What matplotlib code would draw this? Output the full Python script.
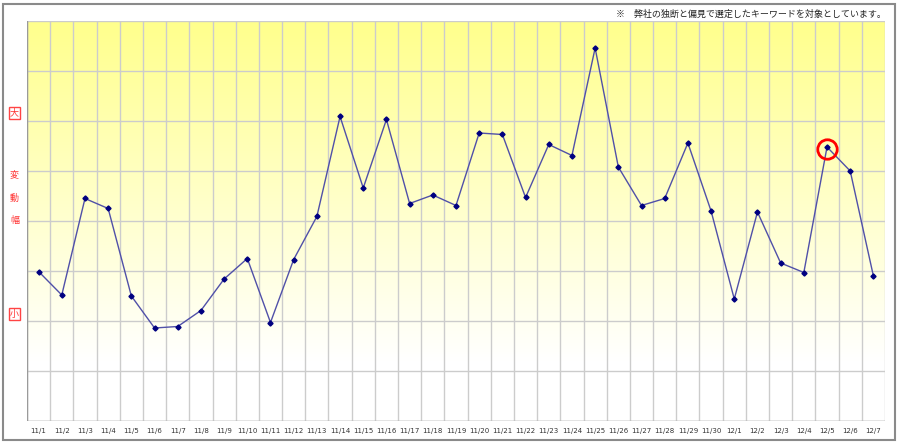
import matplotlib
matplotlib.use("Agg")
import matplotlib.pyplot as plt
import numpy as np
from matplotlib.patches import Rectangle

plt.rcParams['font.family'] = ['Noto Sans CJK JP', 'DejaVu Sans']

dates = ["11/1", "11/2", "11/3", "11/4", "11/5", "11/6", "11/7", "11/8", "11/9", "11/10",
         "11/11", "11/12", "11/13", "11/14", "11/15", "11/16", "11/17", "11/18", "11/19", "11/20",
         "11/21", "11/22", "11/23", "11/24", "11/25", "11/26", "11/27", "11/28", "11/29", "11/30",
         "12/1", "12/2", "12/3", "12/4", "12/5", "12/6", "12/7"]
values = [2.99, 2.52, 4.45, 4.25, 2.50, 1.86, 1.89, 2.21, 2.84, 3.25,
          1.97, 3.23, 4.09, 6.09, 4.66, 6.03, 4.35, 4.52, 4.31, 5.76,
          5.73, 4.47, 5.53, 5.31, 7.46, 5.08, 4.31, 4.45, 5.56, 4.20,
          2.44, 4.18, 3.16, 2.97, 5.48, 5.00, 2.90]
highlight_date = "12/5"
note = "※　弊社の独断と偏見で選定したキーワードを対象としています。"

W, H = 900, 444
fig = plt.figure(figsize=(W / 100, H / 100), dpi=100)

# outer border
fig.patches.append(Rectangle((2.5 / W, 1 - 439.5 / H), 892 / W, 435 / H,
                             transform=fig.transFigure, fill=False,
                             edgecolor='#8a8a8a', linewidth=1.5))

L, R, T, B = 27, 885, 21, 421
ax = fig.add_axes([L / W, 1 - B / H, (R - L) / W, (B - T) / H])
n = len(dates)
x = np.arange(n)

# gradient background (yellow at top fading to white toward the bottom)
grad = np.clip(np.linspace(0, 1, 256) / 0.85, 0, 1).reshape(-1, 1)
top = np.array([255, 255, 140]) / 255
bot = np.array([255, 255, 255]) / 255
img = top[None, None, :] * (1 - grad[:, :, None]) + bot[None, None, :] * grad[:, :, None]
ax.imshow(img, extent=[-0.5, n - 0.5, 0, 8], origin='upper', aspect='auto', zorder=0)
ax.set_xlim(-0.5, n - 0.5)
ax.set_ylim(0, 8)

# grid
for xv in np.arange(-0.5, n, 1.0):
    ax.axvline(xv, color='#cccccc', lw=1, zorder=1)
for yv in range(0, 9):
    ax.axhline(yv, color='#cccccc', lw=1, zorder=1)

for s in ax.spines.values():
    s.set_visible(False)
ax.axvline(-0.5, color='#9a9a9a', lw=1, zorder=2)
ax.axhline(0, color='#9a9a9a', lw=1, zorder=2)

ax.plot(x, values, color='#5050a8', lw=1, zorder=3)
ax.plot(x, values, linestyle='none', marker='D', markersize=2.6,
        color='#000080', zorder=4)

hi = dates.index(highlight_date)
ax.plot([hi], [values[hi] - 0.04], marker='o', markersize=14, markerfacecolor='none',
        markeredgecolor='#ff0000', markeredgewidth=2, zorder=5)

ax.set_xticks([])
ax.set_yticks([])
for i, d in enumerate(dates):
    ax.text(i, -0.2, d, ha='center', va='center', fontsize=5,
            color='#333333', family=['DejaVu Sans'])

# left labels
for ch, yp, boxed in [("大", 113, True), ("変", 175, False), ("動", 198, False),
                      ("幅", 220, False), ("小", 314, True)]:
    kw = {}
    if boxed:
        kw['bbox'] = dict(boxstyle='square,pad=0.15', facecolor='white',
                          edgecolor='#ff4444', linewidth=1)
    fig.text(14.5 / W, 1 - yp / H, ch, ha='center', va='center', fontsize=6.5,
             color='#ff3333', **kw)

fig.text(886 / W, 1 - 14 / H, note, ha='right', va='center', fontsize=6.5,
         color='#222222')

fig.savefig("out.png", dpi=100)
